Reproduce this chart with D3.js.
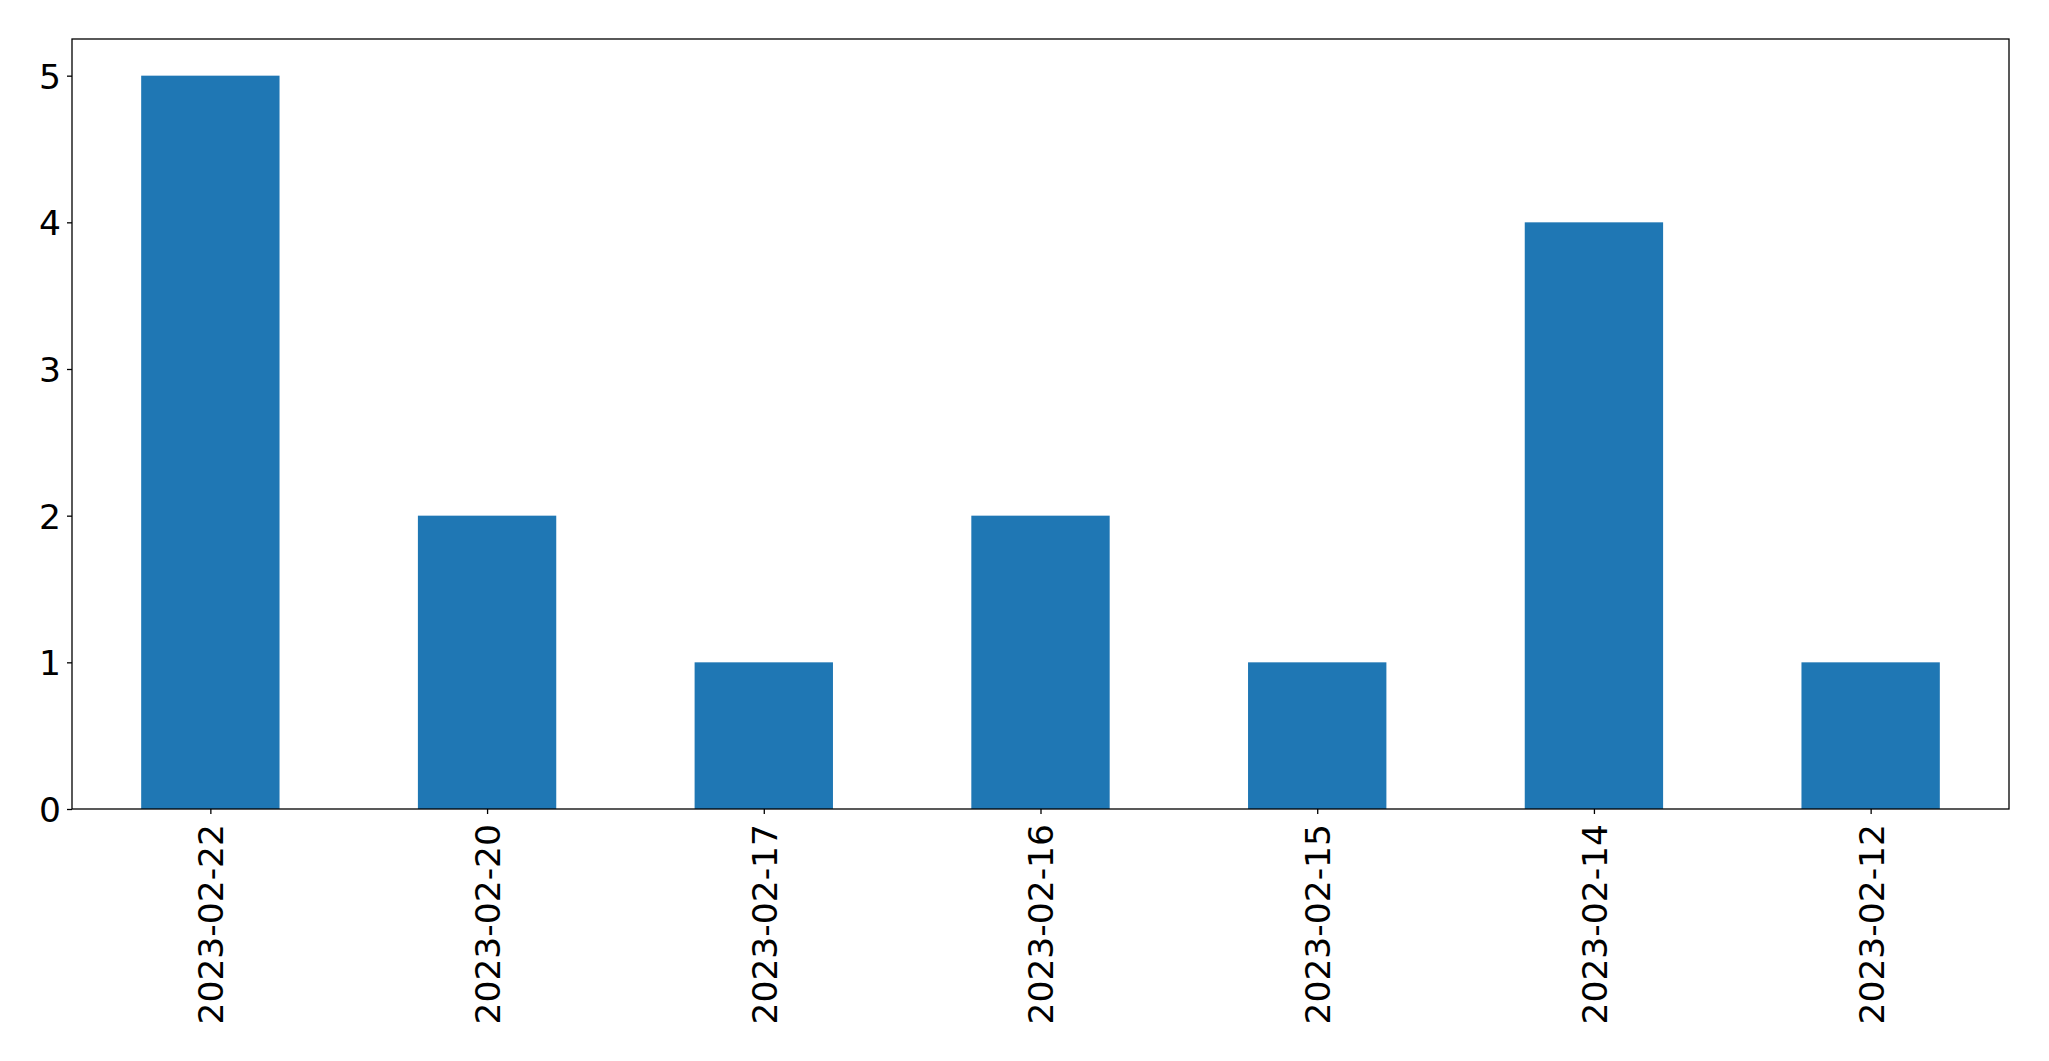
<!DOCTYPE html>
<html>
<head>
<meta charset="utf-8">
<script src="https://cdn.jsdelivr.net/npm/d3@7"></script>
<style>
  html, body { margin: 0; padding: 0; background: #fff; }
  svg { display: block; }
  text { font-family: "DejaVu Sans", sans-serif; fill: #000; }
</style>
</head>
<body>
<svg id="chart" width="2049" height="1061"></svg>
<script>
const categories = ["2023-02-22", "2023-02-20", "2023-02-17", "2023-02-16", "2023-02-15", "2023-02-14", "2023-02-12"];
const values = [5, 2, 1, 2, 1, 4, 1];
const yTicks = [0, 1, 2, 3, 4, 5];

const W = 2049, H = 1061;
const m = { left: 72, right: 2009, top: 39, bottom: 809 };
const svg = d3.select("#chart");
const FS = 34.5;

const x = d3.scaleLinear().domain([-0.5, categories.length - 0.5]).range([m.left, m.right]);
const y = d3.scaleLinear().domain([0, 5.25]).range([m.bottom, m.top]);
const barW = 0.5;

svg.append("g").selectAll("rect").data(values).join("rect")
  .attr("x", (d, i) => x(i - barW / 2))
  .attr("width", (d, i) => x(i + barW / 2) - x(i - barW / 2))
  .attr("y", d => y(d))
  .attr("height", d => y(0) - y(d))
  .attr("fill", "#1f77b4");

// frame
svg.append("rect")
  .attr("x", m.left).attr("y", m.top)
  .attr("width", m.right - m.left).attr("height", m.bottom - m.top)
  .attr("fill", "none").attr("stroke", "#000").attr("stroke-width", 1.3);

// y axis
const yAxis = d3.axisLeft(y).tickValues(yTicks).tickSize(5).tickPadding(6).tickFormat(d3.format("d"));
const gy = svg.append("g").attr("transform", `translate(${m.left},0)`).call(yAxis);
gy.select(".domain").remove();
gy.selectAll(".tick line").attr("stroke", "#000").attr("stroke-width", 1.3);
gy.selectAll(".tick text").attr("font-size", FS).attr("font-family", "DejaVu Sans").attr("fill", "#000").attr("dy", "0.36em");

// x axis
const xAxis = d3.axisBottom(x).tickValues(d3.range(categories.length)).tickSize(5).tickFormat(i => categories[i]);
const gx = svg.append("g").attr("transform", `translate(0,${m.bottom})`).call(xAxis);
gx.select(".domain").remove();
gx.selectAll(".tick line").attr("stroke", "#000").attr("stroke-width", 1.3);
gx.selectAll(".tick text")
  .attr("font-size", FS).attr("font-family", "DejaVu Sans").attr("fill", "#000")
  .attr("text-anchor", "end")
  .attr("x", 0).attr("y", 0)
  .attr("dy", "0.36em")
  .attr("transform", "translate(0,15) rotate(-90)");
</script>
</body>
</html>
